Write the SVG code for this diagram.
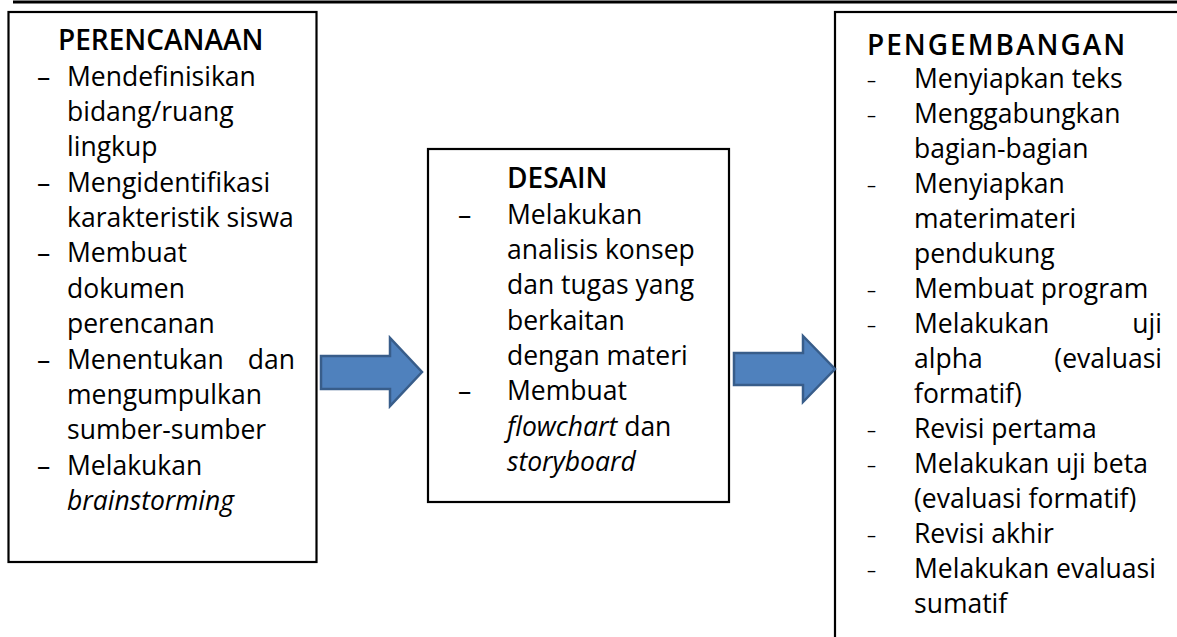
<svg xmlns="http://www.w3.org/2000/svg" width="1177" height="637" viewBox="0 0 1177 637">
<style>
.box{fill:#fff;stroke:#000;stroke-width:2.2}
text{font-family:"Open Sans","Noto Sans",sans-serif;font-size:26.5px;fill:#000}
.h{font-weight:600;font-size:28px}
.it{font-style:italic}
.ds{font-size:18px}
.e{text-anchor:end}
.arrow{fill:#4F81BD;stroke:#385D8A;stroke-width:2.5;stroke-linejoin:miter}
</style>
<line x1="13" y1="2" x2="1177" y2="2" stroke="#000" stroke-width="3"/>
<g id="perencanaan">
<rect class="box" x="8.5" y="12" width="308" height="550"/>
<text class="h" x="58" y="50">PERENCANAAN</text>
<text x="37" y="86">–</text><text x="67" y="86">Mendefinisikan</text>
<text x="67" y="121">bidang/ruang</text>
<text x="67" y="156">lingkup</text>
<text x="37" y="192">–</text><text x="67" y="192">Mengidentifikasi</text>
<text x="67" y="227">karakteristik siswa</text>
<text x="37" y="262">–</text><text x="67" y="262">Membuat</text>
<text x="67" y="298">dokumen</text>
<text x="67" y="333">perencanan</text>
<text x="37" y="369">–</text><text x="67" y="369">Menentukan</text><text class="e" x="295" y="369">dan</text>
<text x="67" y="404">mengumpulkan</text>
<text x="67" y="439">sumber-sumber</text>
<text x="37" y="475">–</text><text x="67" y="475">Melakukan</text>
<text class="it" x="67" y="510">brainstorming</text>
</g>
<g id="desain">
<rect class="box" x="428" y="149" width="301" height="353"/>
<text class="h" x="507" y="188">DESAIN</text>
<text x="458" y="224">–</text><text x="507" y="224">Melakukan</text>
<text x="507" y="259">analisis konsep</text>
<text x="507" y="294">dan tugas yang</text>
<text x="507" y="330">berkaitan</text>
<text x="507" y="365">dengan materi</text>
<text x="458" y="400">–</text><text x="507" y="400">Membuat</text>
<text x="507" y="436"><tspan class="it">flowchart</tspan> dan</text>
<text class="it" x="507" y="471">storyboard</text>
</g>
<g id="pengembangan">
<rect class="box" x="835" y="12" width="360" height="640"/>
<text class="h" x="867" y="55" letter-spacing="2">PENGEMBANGAN</text>
<text class="ds" x="867" y="87">–</text><text x="914" y="88">Menyiapkan teks</text>
<text class="ds" x="867" y="122">–</text><text x="914" y="123">Menggabungkan</text>
<text x="914" y="158">bagian-bagian</text>
<text class="ds" x="867" y="192">–</text><text x="914" y="193">Menyiapkan</text>
<text x="914" y="228">materimateri</text>
<text x="914" y="263">pendukung</text>
<text class="ds" x="867" y="297">–</text><text x="914" y="298">Membuat program</text>
<text class="ds" x="867" y="332">–</text><text x="914" y="333">Melakukan</text><text class="e" x="1162" y="333">uji</text>
<text x="914" y="368">alpha</text><text class="e" x="1162" y="368">(evaluasi</text>
<text x="914" y="403">formatif)</text>
<text class="ds" x="867" y="437">–</text><text x="914" y="438">Revisi pertama</text>
<text class="ds" x="867" y="472">–</text><text x="914" y="473">Melakukan uji beta</text>
<text x="914" y="508">(evaluasi formatif)</text>
<text class="ds" x="867" y="542">–</text><text x="914" y="543">Revisi akhir</text>
<text class="ds" x="867" y="577">–</text><text x="914" y="578">Melakukan evaluasi</text>
<text x="914" y="613">sumatif</text>
</g>
<g id="connectors">
<polygon class="arrow" points="321,356 390,356 390,338 422,372 390,406 390,389 321,389"/>
<polygon class="arrow" points="734,353 803,353 803,336 835,369 803,402 803,385 734,385"/>
</g>
</svg>
